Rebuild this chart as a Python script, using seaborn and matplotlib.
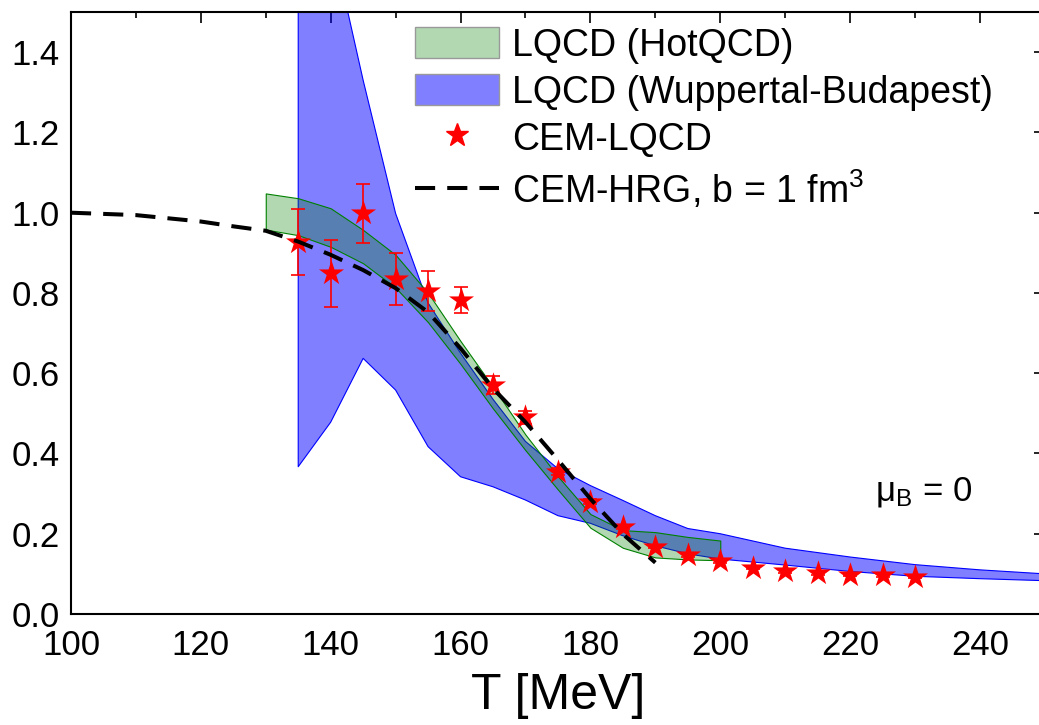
import matplotlib
matplotlib.use("Agg")
import matplotlib.pyplot as plt
from matplotlib.patches import Patch
from matplotlib.lines import Line2D
from matplotlib.ticker import MultipleLocator, FormatStrFormatter
import seaborn as sns

sns.set_theme(style="white")
plt.rcParams["font.family"] = ["Liberation Sans", "DejaVu Sans"]
plt.rcParams["mathtext.default"] = "regular"
plt.rcParams["text.color"] = "black"
plt.rcParams["axes.labelcolor"] = "black"

# LQCD HotQCD band
hot_T = [130, 135, 140, 145, 150, 155, 160, 165, 170, 175, 180, 185, 190, 195, 200]
hot_hi = [1.048, 1.036, 1.011, 0.957, 0.895, 0.80, 0.68, 0.566, 0.447, 0.343, 0.249, 0.209, 0.204, 0.192, 0.183]
hot_lo = [0.958, 0.944, 0.915, 0.874, 0.813, 0.727, 0.623, 0.512, 0.408, 0.31, 0.215, 0.165, 0.141, 0.136, 0.134]

# LQCD Wuppertal-Budapest band
wb_T = [135, 140, 145, 150, 155, 160, 165, 170, 175, 180, 185, 190, 195, 200, 210, 220, 230, 240, 250]
wb_hi = [2.5, 1.69, 1.33, 0.998, 0.775, 0.65, 0.535, 0.43, 0.362, 0.32, 0.283, 0.245, 0.213, 0.20, 0.164, 0.142, 0.123, 0.11, 0.10]
wb_lo = [0.367, 0.478, 0.637, 0.558, 0.417, 0.342, 0.317, 0.284, 0.245, 0.226, 0.195, 0.17, 0.15, 0.137, 0.122, 0.106, 0.094, 0.088, 0.083]

# CEM-HRG, b = 1 fm^3
hrg_T = [100, 110, 120, 125, 130, 135, 140, 145, 150, 155, 160, 165, 170, 175, 180, 185, 190]
hrg_y = [1.0, 0.994, 0.978, 0.966, 0.955, 0.928, 0.895, 0.857, 0.812, 0.752, 0.662, 0.562, 0.478, 0.384, 0.287, 0.199, 0.128]

# CEM-LQCD
cem_T = [135, 140, 145, 150, 155, 160, 165, 170, 175, 180, 185, 190, 195, 200, 205, 210, 215, 220, 225, 230]
cem_y = [0.927, 0.849, 0.998, 0.834, 0.805, 0.782, 0.570, 0.490, 0.355, 0.280, 0.218, 0.168, 0.146, 0.131, 0.115, 0.106, 0.101, 0.097, 0.096, 0.092]
cem_err = [0.083, 0.084, 0.073, 0.065, 0.05, 0.033, 0.023, 0.016, 0.008, 0.006, 0.005, 0.004, 0.004, 0.003, 0.003, 0.003, 0.003, 0.003, 0.003, 0.003]

fig = plt.figure(figsize=(10.39, 7.25), dpi=100)
ax = fig.add_axes([0.0683, 0.1531, 0.9374, 0.8303])

ax.fill_between(wb_T, wb_lo, wb_hi, facecolor=(0, 0, 1, 0.5), edgecolor="blue", linewidth=0.8, zorder=1)
ax.fill_between(hot_T, hot_lo, hot_hi, facecolor=(0, 0.5, 0, 0.3), edgecolor="green", linewidth=0.8, zorder=2)

ax.errorbar(cem_T, cem_y, yerr=cem_err, fmt="none", ecolor="red", elinewidth=1.2,
            capsize=5, capthick=1.2, zorder=3)
sns.scatterplot(ax=ax, x=cem_T, y=cem_y, marker="*", s=360, color="red", linewidth=0, zorder=4)
sns.lineplot(ax=ax, x=hrg_T, y=hrg_y, color="black", linewidth=2.9,
             linestyle=(0, (5, 3)), zorder=5)

ax.set_xlim(100, 250)
ax.set_ylim(0, 1.5)
ax.xaxis.set_major_locator(MultipleLocator(20))
ax.xaxis.set_minor_locator(MultipleLocator(10))
ax.yaxis.set_major_locator(MultipleLocator(0.2))
ax.yaxis.set_minor_locator(MultipleLocator(0.1))
ax.yaxis.set_major_formatter(FormatStrFormatter("%.1f"))
ax.tick_params(which="both", direction="in", top=True, right=True, colors="black",
               labelcolor="black", labelsize=25)
ax.tick_params(which="major", length=8, width=1.2)
ax.tick_params(which="minor", length=4, width=1.2)
ax.tick_params(axis="x", which="major", pad=11)
ax.tick_params(axis="y", which="major", pad=8)
for s in ax.spines.values():
    s.set_color("black")
    s.set_linewidth(1.5)

ax.set_xlabel("T [MeV]", fontsize=36, labelpad=8)
ax.set_ylabel("")

ax.text(223.8, 0.284, "μ$_B$ = 0", fontsize=25, ha="left", va="baseline", color="black")

handles = [
    Patch(facecolor=(0, 0.5, 0, 0.3), edgecolor="#999999", linewidth=1),
    Patch(facecolor=(0, 0, 1, 0.5), edgecolor="#999999", linewidth=1),
    Line2D([], [], color="red", marker="*", markersize=17, linestyle="none"),
    Line2D([], [], color="black", linewidth=2.9, linestyle=(0, (5, 3))),
]
labels = ["LQCD (HotQCD)", "LQCD (Wuppertal-Budapest)", "CEM-LQCD", "CEM-HRG, b = 1 fm$^3$"]
ax.legend(handles, labels, loc="upper left", bbox_to_anchor=(0.353, 0.975), frameon=False,
          fontsize=27, handlelength=2.25, handleheight=0.9, handletextpad=0.35,
          labelspacing=0.28, borderpad=0, borderaxespad=0)

fig.savefig("out.png", dpi=100)
